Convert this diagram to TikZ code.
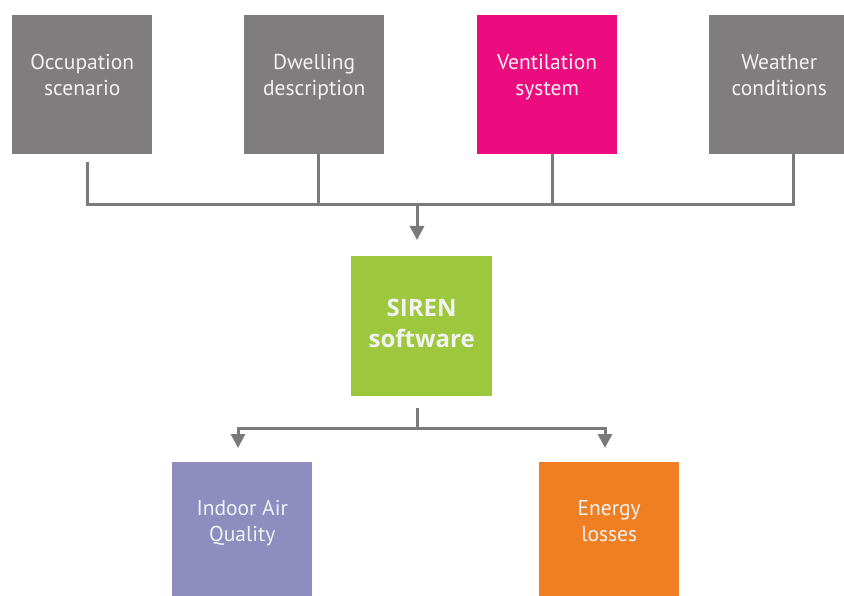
\documentclass[tikz,border=0pt]{standalone}
\usepackage{fontspec}
\setmainfont{PT Sans}
\newfontfamily\boldsans{Open Sans}
\usetikzlibrary{arrows.meta}
\definecolor{boxgray}{HTML}{7F7D7D}
\definecolor{vpink}{HTML}{EC0C80}
\definecolor{sgreen}{HTML}{9DC73C}
\definecolor{iaqcol}{HTML}{8E8DBF}
\definecolor{eorange}{HTML}{EF7F22}
\definecolor{linegray}{HTML}{7A7A7A}
\definecolor{txt}{HTML}{F2F2F2}
\begin{document}
\begin{tikzpicture}[x=1pt,y=-1pt,
  box/.style={rectangle, minimum width=140pt, minimum height=139pt, inner sep=0pt, anchor=north west},
  lbl/.style={text=txt, align=center, inner sep=0pt, anchor=base, font=\fontsize{21.5}{26}\selectfont},
  blbl/.style={text=txt, align=center, inner sep=0pt, anchor=base, font=\fontsize{24}{32}\selectfont\boldsans\bfseries},
  conn/.style={draw=linegray, line width=3pt},
  arr/.style={conn, -{Triangle[width=14pt,length=14pt]}}]
\clip (0,0) rectangle (844,596);
% input boxes
\node[box, fill=boxgray] (occ) at (12,15) {};
\node[box, fill=boxgray] (dwe) at (244,15) {};
\node[box, fill=vpink] (ven) at (477,15) {};
\node[box, fill=boxgray] (wea) at (709,15) {};
\node[lbl] (occt) at (occ.center |- 0,96) {Occupation\\scenario};
\node[lbl] (dwet) at (dwe.center |- 0,96) {Dwelling\\description};
\node[lbl] (vent) at (ven.center |- 0,96) {Ventilation\\system};
\node[lbl] (weat) at (wea.center |- 0,96) {Weather\\conditions};
% SIREN
\node[box, fill=sgreen, minimum width=141pt, minimum height=140pt] (sir) at (351,256) {};
\node[blbl] (sirt) at (sir.center |- 0,348) {SIREN\\software};
% outputs
\node[box, fill=iaqcol, minimum height=140pt] (iaq) at (172,462) {};
\node[box, fill=eorange, minimum height=140pt] (ene) at (539,462) {};
\node[lbl] (iaqt) at (iaq.center |- 0,541) {Indoor Air\\Quality};
\node[lbl] (enet) at (ene.center |- 0,541) {Energy\\losses};
% bus coordinates
\coordinate (b1) at (87,205);
\coordinate (b2) at (318,205);
\coordinate (b3) at (552,205);
\coordinate (b4) at (793,205);
\coordinate (bus) at (417,205);
\coordinate (sin) at (417,240);
\coordinate (sout) at (417,408);
\coordinate (split) at (417,428);
\coordinate (tipl) at (238,448);
\coordinate (tipr) at (605,448);
% connectors
\draw[conn] ([yshift=-8pt]occ.south -| b1) -- (b1) -- (b4) -- (wea.south -| b4);
\draw[conn] (dwe.south -| b2) -- (b2);
\draw[conn] (ven.south -| b3) -- (b3);
\draw[arr] (bus) -- (sin);
\draw[conn] (sout) -- (split);
\draw[arr] (split) -| (tipl);
\draw[arr] (split) -| (tipr);
\end{tikzpicture}
\end{document}
